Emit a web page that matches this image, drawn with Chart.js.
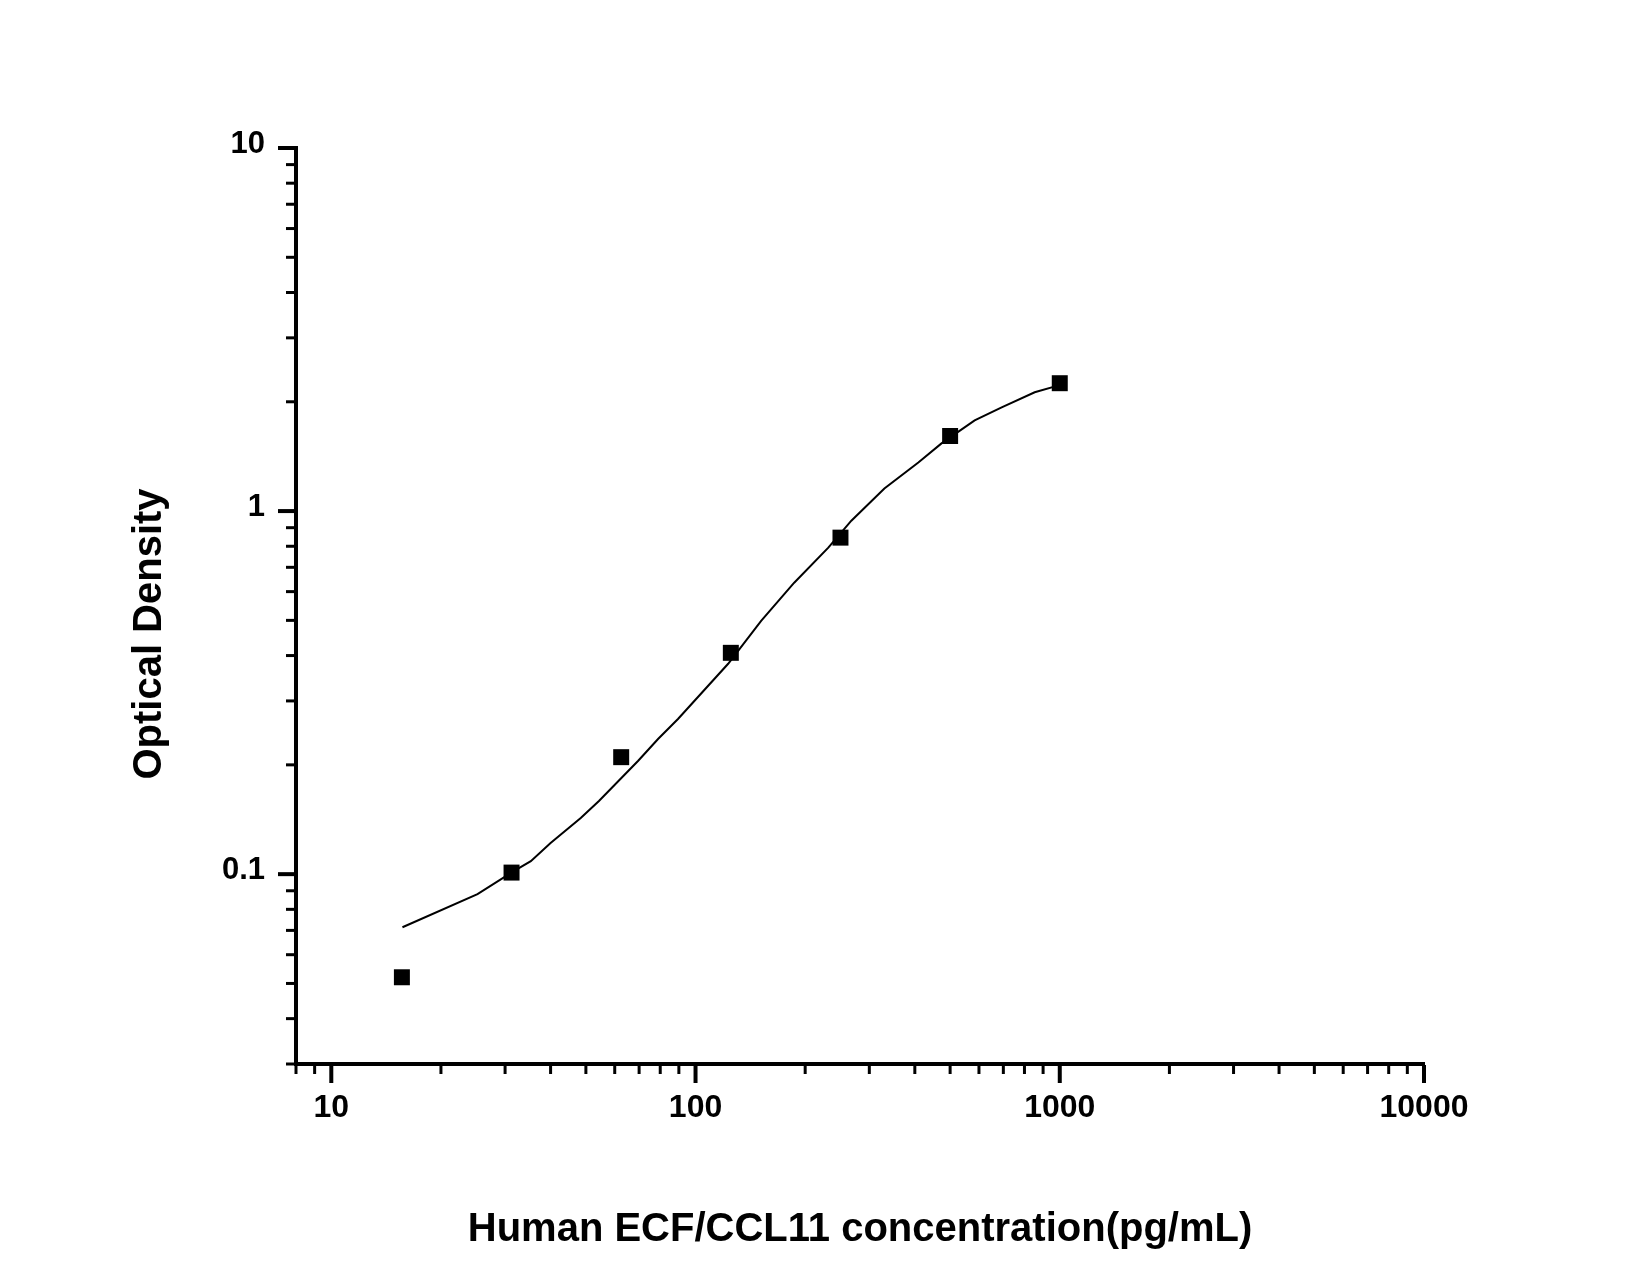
<!DOCTYPE html>
<html>
<head>
<meta charset="utf-8">
<script src="https://cdn.jsdelivr.net/npm/chart.js@4/dist/chart.umd.min.js"></script>
<style>
  html, body { margin: 0; padding: 0; background: #fff; }
  #wrap { width: 1650px; height: 1275px; position: relative; }
</style>
</head>
<body>
<div id="wrap"><canvas id="chart"></canvas></div>
<script>
// standards (pg/mL) and measured OD
const concentrations = [15.625, 31.25, 62.5, 125, 250, 500, 1000];
const opticalDensity = [0.052, 0.101, 0.210, 0.407, 0.845, 1.61, 2.25];

// fitted curve
const curveX = [15.68, 25.2, 31.7, 35.3, 40.0, 48.4, 54.3, 69.5, 78.9, 89.5, 122.9, 151.4, 186.6, 231.5, 267.8, 330, 409, 473.5, 583.9, 692.6, 853.5, 993.6];
const curveY = [0.0714, 0.0881, 0.1019, 0.1086, 0.1218, 0.1427, 0.159, 0.205, 0.2357, 0.2676, 0.3797, 0.4987, 0.635, 0.793, 0.941, 1.154, 1.361, 1.536, 1.777, 1.931, 2.124, 2.219];

// axis ticks
const xMajorTicks = [10, 100, 1000, 10000];
const xMinorTicks = [8, 9, 20, 30, 40, 50, 60, 70, 80, 90, 200, 300, 400, 500, 600, 700, 800, 900, 2000, 3000, 4000, 5000, 6000, 7000, 8000, 9000];
const yMajorTicks = [0.1, 1, 10];
const yMinorTicks = [0.03, 0.04, 0.05, 0.06, 0.07, 0.08, 0.09, 0.2, 0.3, 0.4, 0.5, 0.6, 0.7, 0.8, 0.9, 2, 3, 4, 5, 6, 7, 8, 9];

const xTitle = 'Human ECF/CCL11 concentration(pg/mL)';
const yTitle = 'Optical Density';

const FONT = '"Liberation Sans", Arial, sans-serif';

// tick marks drawn outward, majors longer than minors
const tickMarks = {
    id: 'tickMarks',
    afterDraw(chart) {
        const { ctx, chartArea, scales } = chart;
        ctx.save();
        ctx.strokeStyle = '#000';
        const bottom = chartArea.bottom + 2;
        const left = chartArea.left - 2;
        const drawX = (vals, len, w) => {
            ctx.lineWidth = w;
            vals.forEach(v => {
                const px = scales.x.getPixelForValue(v);
                ctx.beginPath(); ctx.moveTo(px, bottom - 1); ctx.lineTo(px, bottom + len); ctx.stroke();
            });
        };
        const drawY = (vals, len, w) => {
            ctx.lineWidth = w;
            vals.forEach(v => {
                const py = scales.y.getPixelForValue(v);
                ctx.beginPath(); ctx.moveTo(left + 1, py); ctx.lineTo(left - len, py); ctx.stroke();
            });
        };
        drawX(xMinorTicks, 8, 3);
        drawX(xMajorTicks, 17, 4);
        drawY(yMinorTicks, 8, 3);
        drawY(yMajorTicks, 16, 4);

        // y axis title, sits a little below the middle like the original
        ctx.fillStyle = '#000';
        ctx.font = 'bold 40px ' + FONT;
        ctx.textAlign = 'center';
        ctx.textBaseline = 'middle';
        ctx.translate(150, (chartArea.top + chartArea.bottom) / 2 + 28);
        ctx.rotate(-Math.PI / 2);
        ctx.fillText(yTitle, 0, 0);
        ctx.restore();
    }
};

new Chart(document.getElementById('chart'), {
    type: 'scatter',
    data: {
        datasets: [
            {
                label: 'fit',
                data: curveX.map((x, i) => ({ x: x, y: curveY[i] })),
                showLine: true,
                borderColor: '#000',
                borderWidth: 2,
                pointRadius: 0,
                tension: 0,
                fill: false
            },
            {
                label: 'standards',
                data: concentrations.map((x, i) => ({ x: x, y: opticalDensity[i] })),
                pointStyle: 'rect',
                pointRadius: 11.3,
                pointBackgroundColor: '#000',
                pointBorderWidth: 0,
                showLine: false
            }
        ]
    },
    options: {
        responsive: true,
        maintainAspectRatio: false,
        animation: false,
        devicePixelRatio: 1,
        layout: { padding: { top: 148, right: 226, bottom: 0, left: 0 } },
        plugins: { legend: { display: false }, tooltip: { enabled: false } },
        scales: {
            x: {
                type: 'logarithmic',
                min: 8,
                max: 10000,
                afterBuildTicks: (scale) => { scale.ticks = xMajorTicks.map(v => ({ value: v })); },
                afterFit: (scale) => { scale.height = 211; },
                grid: { display: false, drawTicks: false },
                border: { display: true, color: '#000', width: 4 },
                ticks: {
                    autoSkip: false,
                    maxRotation: 0,
                    padding: 25,
                    color: '#000',
                    font: { family: FONT, size: 32, weight: 'bold' },
                    callback: (v) => String(v)
                },
                title: {
                    display: true,
                    text: xTitle,
                    color: '#000',
                    font: { family: FONT, size: 40, weight: 'bold' },
                    padding: { top: 0, bottom: 21 }
                }
            },
            y: {
                type: 'logarithmic',
                min: 0.03,
                max: 10,
                afterBuildTicks: (scale) => { scale.ticks = yMajorTicks.map(v => ({ value: v })); },
                afterFit: (scale) => { scale.width = 296; },
                grid: { display: false, drawTicks: false },
                border: { display: true, color: '#000', width: 4 },
                ticks: {
                    autoSkip: false,
                    padding: 31,
                    labelOffset: -4,
                    color: '#000',
                    font: { family: FONT, size: 31, weight: 'bold' },
                    callback: (v) => String(v)
                }
            }
        }
    },
    plugins: [tickMarks]
});
</script>
</body>
</html>
